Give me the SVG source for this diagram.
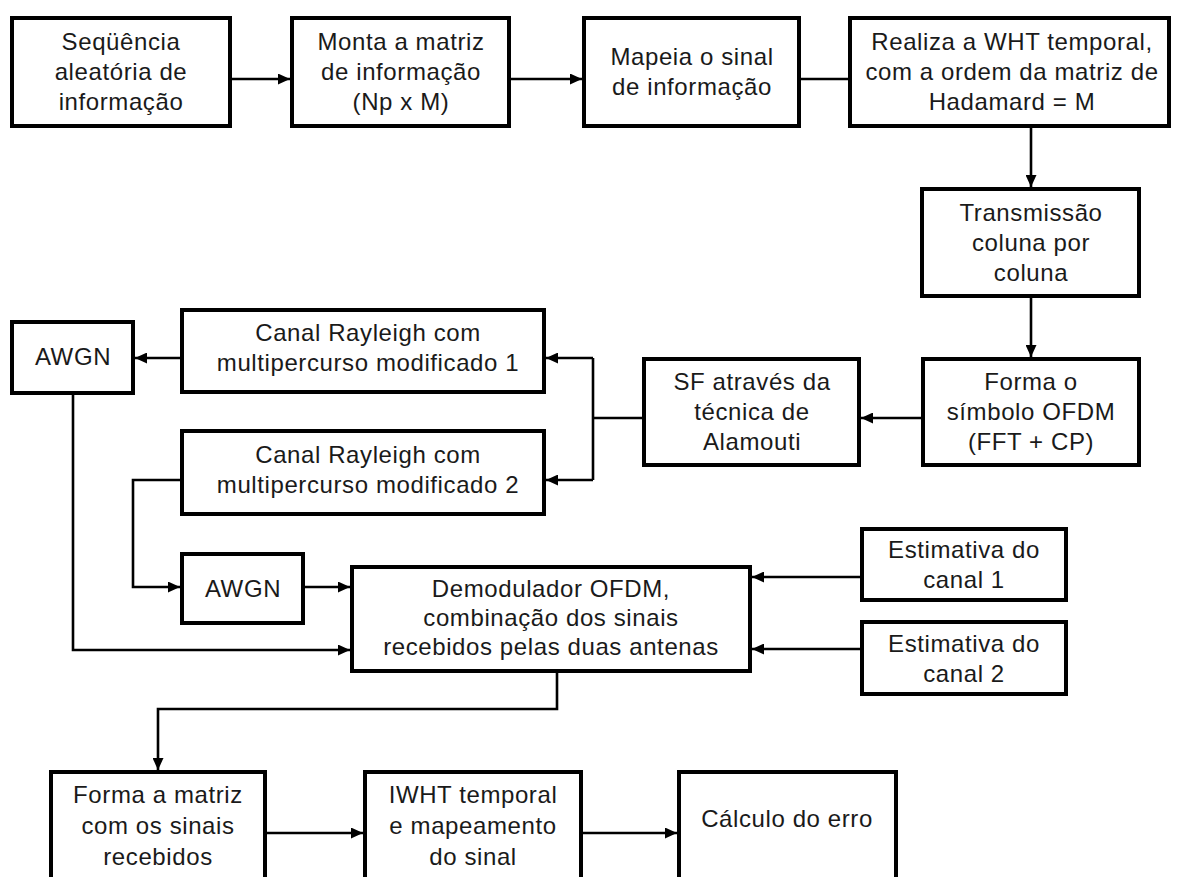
<svg xmlns="http://www.w3.org/2000/svg" width="1179" height="877" viewBox="0 0 1179 877">
<defs>
<style>
.box{fill:#fff;stroke:#000;stroke-width:4}
.t{font-family:"Liberation Sans",Arial,sans-serif;font-size:24px;letter-spacing:0.6px;fill:#1a1a1a;text-anchor:middle}
.c{fill:none;stroke:#000;stroke-width:2.6}
</style>
<marker id="ah" markerUnits="userSpaceOnUse" markerWidth="12" markerHeight="11" refX="12" refY="5.5" orient="auto">
<path d="M0,0 L12,5.5 L0,11 z" fill="#000"/>
</marker>
</defs>
<rect width="1179" height="877" fill="#fff"/>
<g id="connectors">
<line class="c" x1="232" y1="79" x2="290" y2="79" marker-end="url(#ah)"/>
<line class="c" x1="511" y1="79" x2="582" y2="79" marker-end="url(#ah)"/>
<line class="c" x1="801" y1="79" x2="848" y2="79"/>
<line class="c" x1="1031" y1="128" x2="1031" y2="187" marker-end="url(#ah)"/>
<line class="c" x1="1031" y1="298" x2="1031" y2="357" marker-end="url(#ah)"/>
<line class="c" x1="921" y1="418" x2="861" y2="418" marker-end="url(#ah)"/>
<line class="c" x1="642" y1="418" x2="593" y2="418"/>
<polyline class="c" points="593,358 593,480"/>
<line class="c" x1="593" y1="358" x2="546" y2="358" marker-end="url(#ah)"/>
<line class="c" x1="593" y1="480" x2="546" y2="480" marker-end="url(#ah)"/>
<line class="c" x1="180" y1="358" x2="135" y2="358" marker-end="url(#ah)"/>
<polyline class="c" points="180,480 133,480 133,587 180,587" marker-end="url(#ah)"/>
<line class="c" x1="305" y1="587" x2="350" y2="587" marker-end="url(#ah)"/>
<polyline class="c" points="73,395 73,650 350,650" marker-end="url(#ah)"/>
<line class="c" x1="860" y1="577" x2="752" y2="577" marker-end="url(#ah)"/>
<line class="c" x1="860" y1="649" x2="752" y2="649" marker-end="url(#ah)"/>
<polyline class="c" points="557,673 557,709 158,709 158,770" marker-end="url(#ah)"/>
<line class="c" x1="267" y1="833" x2="363" y2="833" marker-end="url(#ah)"/>
<line class="c" x1="583" y1="833" x2="677" y2="833" marker-end="url(#ah)"/>
</g>
<g id="n1"><rect class="box" x="12" y="18" width="218" height="108"/>
<text class="t" x="121" y="50"><tspan x="121">Seqüência</tspan><tspan x="121" dy="30">aleatória de</tspan><tspan x="121" dy="30">informação</tspan></text></g>
<g id="n2"><rect class="box" x="292" y="18" width="217" height="108"/>
<text class="t" x="401" y="50"><tspan x="401">Monta a matriz</tspan><tspan x="401" dy="30">de informação</tspan><tspan x="401" dy="30">(Np x M)</tspan></text></g>
<g id="n3"><rect class="box" x="584" y="18" width="215" height="108"/>
<text class="t" x="692" y="65"><tspan x="692">Mapeia o sinal</tspan><tspan x="692" dy="30">de informação</tspan></text></g>
<g id="n4"><rect class="box" x="850" y="18" width="319" height="108"/>
<text class="t" x="1012" y="50"><tspan x="1012">Realiza a WHT temporal,</tspan><tspan x="1012" dy="30">com a ordem da matriz de</tspan><tspan x="1012" dy="30">Hadamard = M</tspan></text></g>
<g id="n5"><rect class="box" x="922" y="189" width="217" height="107"/>
<text class="t" x="1031" y="221"><tspan x="1031">Transmissão</tspan><tspan x="1031" dy="30">coluna por</tspan><tspan x="1031" dy="30">coluna</tspan></text></g>
<g id="n6"><rect class="box" x="923" y="359" width="216" height="106"/>
<text class="t" x="1031" y="390"><tspan x="1031">Forma o</tspan><tspan x="1031" dy="30">símbolo OFDM</tspan><tspan x="1031" dy="30">(FFT + CP)</tspan></text></g>
<g id="n7"><rect class="box" x="644" y="359" width="215" height="106"/>
<text class="t" x="752" y="390"><tspan x="752">SF através da</tspan><tspan x="752" dy="30">técnica de</tspan><tspan x="752" dy="30">Alamouti</tspan></text></g>
<g id="n8"><rect class="box" x="182" y="310" width="362" height="82"/>
<text class="t" x="368" y="341"><tspan x="368">Canal Rayleigh com</tspan><tspan x="368" dy="30">multipercurso modificado 1</tspan></text></g>
<g id="n9"><rect class="box" x="12" y="322" width="121" height="71"/>
<text class="t" x="73" y="365">AWGN</text></g>
<g id="n10"><rect class="box" x="182" y="431" width="362" height="83"/>
<text class="t" x="368" y="463"><tspan x="368">Canal Rayleigh com</tspan><tspan x="368" dy="30">multipercurso modificado 2</tspan></text></g>
<g id="n11"><rect class="box" x="182" y="554" width="121" height="69"/>
<text class="t" x="243" y="597">AWGN</text></g>
<g id="n12"><rect class="box" x="352" y="567" width="398" height="104"/>
<text class="t" x="551" y="597"><tspan x="551">Demodulador OFDM,</tspan><tspan x="551" dy="29">combinação dos sinais</tspan><tspan x="551" dy="29">recebidos pelas duas antenas</tspan></text></g>
<g id="n13"><rect class="box" x="862" y="529" width="204" height="71"/>
<text class="t" x="964" y="558"><tspan x="964">Estimativa do</tspan><tspan x="964" dy="30">canal 1</tspan></text></g>
<g id="n14"><rect class="box" x="862" y="622" width="204" height="72"/>
<text class="t" x="964" y="652"><tspan x="964">Estimativa do</tspan><tspan x="964" dy="30">canal 2</tspan></text></g>
<g id="n15"><rect class="box" x="51" y="772" width="214" height="130"/>
<text class="t" x="158" y="803"><tspan x="158">Forma a matriz</tspan><tspan x="158" dy="31">com os sinais</tspan><tspan x="158" dy="31">recebidos</tspan></text></g>
<g id="n16"><rect class="box" x="365" y="772" width="216" height="130"/>
<text class="t" x="473" y="803"><tspan x="473">IWHT temporal</tspan><tspan x="473" dy="31">e mapeamento</tspan><tspan x="473" dy="31">do sinal</tspan></text></g>
<g id="n17"><rect class="box" x="679" y="772" width="217" height="130"/>
<text class="t" x="787" y="827">Cálculo do erro</text></g>
</svg>
